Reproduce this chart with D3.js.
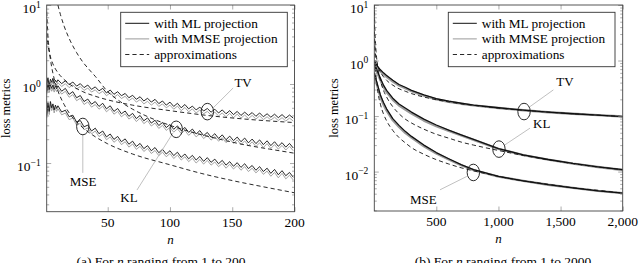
<!DOCTYPE html>
<html><head><meta charset="utf-8">
<script src="https://cdn.jsdelivr.net/npm/d3@7"></script>
<style>
body{margin:0;background:#fff}
svg{display:block}
</style>
</head><body>
<svg id="c" width="640" height="263"></svg>
<script>
// ---------------- DATA: left panel (n = 1..200) ----------------
const nSawL = [1,2,3,4,5,6,7,8,9,10,13,16,19,22,25,28,31,34,37,40,43,46,49,52,55,58,61,64,67,70,73,76,79,82,85,88,91,94,97,100,103,106,109,112,115,118,121,124,127,130,133,136,139,142,145,148,151,154,157,160,163,166,169,172,175,178,181,184,187,190,193,196,199];
const tvML_L = [1.0,1.2,0.95,1.15,1.05,1.18,1.02,1.12,1.05,1.13,1.01,1.10,0.98,1.06,0.94,1.01,0.90,0.97,0.855,0.92,0.82,0.88,0.77,0.84,0.74,0.80,0.71,0.76,0.67,0.72,0.64,0.69,0.61,0.66,0.59,0.64,0.565,0.61,0.54,0.59,0.52,0.57,0.50,0.55,0.485,0.525,0.47,0.51,0.455,0.49,0.44,0.48,0.43,0.47,0.42,0.46,0.41,0.45,0.40,0.44,0.40,0.435,0.39,0.43,0.385,0.42,0.38,0.415,0.375,0.41,0.37,0.405,0.37];
const tvMM_L = [0.92,1.10,0.87,1.06,0.97,1.09,0.94,1.03,0.97,1.04,0.93,1.01,0.90,0.975,0.865,0.93,0.83,0.89,0.79,0.845,0.755,0.81,0.71,0.775,0.68,0.735,0.655,0.70,0.615,0.665,0.59,0.635,0.56,0.605,0.54,0.59,0.52,0.56,0.50,0.54,0.48,0.525,0.46,0.505,0.445,0.485,0.43,0.47,0.42,0.45,0.405,0.44,0.395,0.43,0.385,0.425,0.375,0.415,0.37,0.405,0.365,0.40,0.36,0.395,0.355,0.385,0.35,0.38,0.345,0.375,0.34,0.37,0.34];
const klML_L = [0.80,1.0,0.85,0.98,0.88,0.97,0.86,0.95,0.87,0.95,0.81,0.88,0.74,0.80,0.67,0.715,0.60,0.645,0.555,0.60,0.52,0.57,0.485,0.53,0.45,0.49,0.42,0.455,0.39,0.425,0.365,0.40,0.342,0.373,0.320,0.348,0.298,0.326,0.281,0.307,0.267,0.295,0.256,0.282,0.244,0.269,0.233,0.257,0.222,0.244,0.212,0.235,0.205,0.227,0.197,0.219,0.192,0.213,0.186,0.207,0.180,0.201,0.176,0.196,0.171,0.191,0.166,0.186,0.163,0.181,0.159,0.177,0.155];
const klMM_L = [0.74,0.92,0.78,0.90,0.81,0.89,0.79,0.87,0.80,0.875,0.745,0.81,0.68,0.735,0.615,0.66,0.55,0.595,0.51,0.55,0.48,0.525,0.445,0.49,0.415,0.45,0.385,0.42,0.36,0.39,0.335,0.37,0.315,0.343,0.294,0.32,0.274,0.30,0.259,0.282,0.246,0.271,0.236,0.259,0.224,0.247,0.214,0.236,0.204,0.224,0.195,0.216,0.189,0.209,0.181,0.201,0.177,0.196,0.171,0.19,0.166,0.185,0.162,0.18,0.157,0.176,0.153,0.171,0.15,0.167,0.146,0.163,0.143];
const mseML_L = [0.40,0.58,0.45,0.60,0.50,0.56,0.47,0.54,0.49,0.53,0.442,0.466,0.385,0.403,0.329,0.345,0.287,0.302,0.254,0.276,0.235,0.254,0.214,0.233,0.199,0.217,0.186,0.202,0.173,0.189,0.162,0.177,0.152,0.166,0.143,0.157,0.135,0.149,0.130,0.143,0.124,0.137,0.118,0.130,0.113,0.125,0.109,0.121,0.105,0.117,0.102,0.112,0.098,0.108,0.094,0.104,0.091,0.101,0.088,0.098,0.085,0.093,0.081,0.090,0.078,0.086,0.074,0.083,0.071,0.080,0.069,0.076,0.066];
const mseMM_L = [0.37,0.53,0.41,0.55,0.46,0.52,0.43,0.50,0.45,0.488,0.407,0.429,0.354,0.371,0.303,0.317,0.264,0.278,0.234,0.254,0.216,0.234,0.197,0.214,0.183,0.2,0.171,0.186,0.159,0.174,0.149,0.163,0.14,0.153,0.132,0.144,0.124,0.137,0.12,0.132,0.114,0.126,0.109,0.12,0.104,0.115,0.1,0.111,0.097,0.108,0.094,0.103,0.09,0.099,0.086,0.096,0.084,0.093,0.081,0.09,0.078,0.086,0.075,0.083,0.072,0.079,0.068,0.076,0.065,0.074,0.063,0.07,0.061];
// approximations (left)
const nTvApxL  = [1,2,3,5,7,10,15,20,30,40,50,70,100,130,160,200];
const tvApxL   = [4.4,3.1,2.55,1.97,1.66,1.39,1.14,0.98,0.80,0.70,0.63,0.54,0.46,0.40,0.36,0.325];
const nKlApxL  = [10,12,15,20,25,30,35,40,50,60,70,80,100,120,140,160,180,200];
const klApxL   = [10,7.6,5.4,3.5,2.5,1.9,1.53,1.25,0.80,0.60,0.48,0.40,0.30,0.24,0.20,0.17,0.15,0.133];
const nMseApxL = [1,2,3,4,5,7,10,15,20,30,40,50,70,100,125,150,175,200];
const mseApxL  = [8.2,4.1,2.73,2.05,1.64,1.17,0.82,0.55,0.41,0.28,0.215,0.175,0.13,0.095,0.074,0.06,0.05,0.042];

// ---------------- DATA: right panel (n = 1..2000) ----------------
const nR = [1,10,25,50,75,100,150,200,250,300,400,500,600,700,800,1000,1200,1400,1600,1800,2000];
const tvML_R  = [0.95,0.90,0.80,0.68,0.60,0.54,0.44,0.37,0.33,0.29,0.24,0.205,0.185,0.17,0.158,0.141,0.128,0.118,0.11,0.104,0.098];
const tvMM_R  = [0.88,0.84,0.75,0.64,0.57,0.51,0.42,0.355,0.318,0.28,0.233,0.2,0.181,0.167,0.156,0.14,0.127,0.117,0.11,0.104,0.098];
const klML_R  = [0.85,0.80,0.65,0.48,0.36,0.29,0.21,0.165,0.14,0.118,0.088,0.069,0.056,0.046,0.038,0.026,0.020,0.0165,0.014,0.0122,0.0108];
const klMM_R  = [0.78,0.74,0.60,0.445,0.335,0.27,0.196,0.155,0.131,0.111,0.083,0.066,0.054,0.045,0.0372,0.0256,0.0198,0.0164,0.0139,0.0121,0.0107];
const mseML_R = [0.60,0.50,0.38,0.24,0.175,0.135,0.09,0.068,0.053,0.043,0.030,0.022,0.0170,0.0133,0.0108,0.0082,0.0068,0.0058,0.0051,0.0045,0.0041];
const mseMM_R = [0.55,0.46,0.35,0.22,0.162,0.125,0.084,0.064,0.05,0.041,0.0287,0.0212,0.0165,0.013,0.0106,0.0081,0.0068,0.0058,0.0051,0.0045,0.0041];
const nTvApxR  = [1,3,10,25,50,75,100,150,200,250,300,400,500,600,700,800,1000,1200,1400,1600,1800,2000];
const tvApxR   = [4.4,2.54,1.39,0.88,0.62,0.51,0.44,0.36,0.31,0.28,0.254,0.22,0.197,0.18,0.166,0.156,0.139,0.127,0.118,0.11,0.104,0.098];
const nKlApxR  = [2.2,5,10,15,25,50,75,100,150,200,250,300,400,500,600,700,800,1000,1200,1400,1600,1800,2000];
const klApxR   = [10,4.4,2.2,1.47,0.88,0.44,0.29,0.22,0.147,0.11,0.088,0.075,0.058,0.047,0.04,0.034,0.030,0.024,0.0195,0.0163,0.0139,0.0121,0.0108];
const nMseApxR = [1,2,5,10,25,50,75,100,150,200,250,300,400,500,600,700,800,1000,1200,1400,1600,1800,2000];
const mseApxR  = [8.2,4.1,1.64,0.82,0.33,0.164,0.109,0.082,0.055,0.041,0.033,0.027,0.0205,0.0164,0.0137,0.0117,0.0103,0.0082,0.0068,0.0059,0.0051,0.0046,0.0041];

// tick labels
const xTicksL = [50,100,150,200];
const xTickLabelsL = ["50","100","150","200"];
const xTicksR = [500,1000,1500,2000];
const xTickLabelsR = ["500","1,000","1,500","2,000"];
const yExpL = [1,0,-1];
const yExpR = [1,0,-1,-2];
const legendLabels = ["with ML projection","with MMSE projection","approximations"];

// annotations: [label, circle n, circle v, line start n,v, line end n,v, text n,v]
const annL = [
  ["TV", 130,0.447, 134.6,0.497, 150.7,0.89, 158.7,1.06],
  ["KL", 105,0.267, 102.4,0.24, 73.5,0.0455, 67.1,0.037],
  ["MSE", 30,0.29, 30,0.233, 30,0.075, 30.2,0.059]
];
const annR = [
  ["TV", 1206,0.1205, 1254,0.148, 1442,0.296, 1536,0.412],
  ["KL", 1004,0.0254, 1052,0.0303, 1254,0.0606, 1348,0.0745],
  ["MSE", 798,0.00964, 745,0.00817, 530,0.0047, 395,0.00311]
];

// ---------------- DRAWING ----------------
const FONT = "'Liberation Serif','DejaVu Serif','Times New Roman',serif";
const svg = d3.select("#c").attr("font-family", FONT);
const zip = (ns, vs) => ns.map((n,i)=>[n, vs[i]]).filter(d=>d[1]!==undefined);
function txt(sel){ return sel.append("text").style("font-family", FONT).attr("fill","#000"); }

function panel(cfg){
  const g = svg.append("g");
  const x = d3.scaleLinear().domain(cfg.xDom).range([cfg.x0, cfg.x1]);
  const y = d3.scaleLog().domain(cfg.yDom).range([cfg.y1, cfg.y0]);
  const id = "clip"+cfg.key;
  svg.append("clipPath").attr("id", id).append("rect")
    .attr("x", cfg.x0).attr("y", cfg.y0).attr("width", cfg.x1-cfg.x0).attr("height", cfg.y1-cfg.y0);
  const line = d3.line().x(d=>x(d[0])).y(d=>y(d[1]));
  const plot = g.append("g").attr("clip-path", `url(#${id})`);
  cfg.mm.forEach(s => plot.append("path").datum(zip(s[0], s[1]))
    .attr("d", line).attr("fill","none").attr("stroke","#9a9a9a").attr("stroke-width", cfg.mmW).attr("stroke-linejoin","round"));
  cfg.ml.forEach(s => plot.append("path").datum(zip(s[0], s[1]))
    .attr("d", line).attr("fill","none").attr("stroke","#111").attr("stroke-width", cfg.mlW).attr("stroke-linejoin","round"));
  cfg.apx.forEach(s => plot.append("path").datum(zip(s[0], s[1]))
    .attr("d", d3.line().curve(d3.curveMonotoneX).x(d=>x(d[0])).y(d=>y(d[1])))
    .attr("fill","none").attr("stroke","#111").attr("stroke-width",0.9).attr("stroke-dasharray","4.2,3"));

  cfg.ann.forEach(a => {
    g.append("line").attr("x1", x(a[3])).attr("y1", y(a[4])).attr("x2", x(a[5])).attr("y2", y(a[6]))
      .attr("stroke","#b0b0b0").attr("stroke-width",0.8);
    g.append("ellipse").attr("cx", x(a[1])).attr("cy", y(a[2])).attr("rx",6.2).attr("ry",8.3)
      .attr("fill","none").attr("stroke","#111").attr("stroke-width",0.9);
    txt(g).attr("x", x(a[7])).attr("y", y(a[8])+4.5).attr("text-anchor","middle")
      .attr("font-size",13).text(a[0]);
  });

  const majors = cfg.yExp.map(e => Math.pow(10,e));
  const minors = [];
  const lo = Math.floor(Math.log10(cfg.yDom[0])), hi = Math.ceil(Math.log10(cfg.yDom[1]));
  for (let e=lo; e<hi; e++) for (let j=2;j<=9;j++){ const v=j*Math.pow(10,e); if (v>=cfg.yDom[0] && v<=cfg.yDom[1]) minors.push(v); }
  const axG = g.append("g");
  axG.append("g").attr("transform",`translate(${cfg.x0},0)`).call(d3.axisLeft(y).tickValues(majors).tickSize(-4.5).tickFormat(""));
  axG.append("g").attr("transform",`translate(${cfg.x0},0)`).call(d3.axisLeft(y).tickValues(minors).tickSize(-2.5).tickFormat(""));
  axG.append("g").attr("transform",`translate(${cfg.x1},0)`).call(d3.axisRight(y).tickValues(majors).tickSize(-4.5).tickFormat(""));
  axG.append("g").attr("transform",`translate(${cfg.x1},0)`).call(d3.axisRight(y).tickValues(minors).tickSize(-2.5).tickFormat(""));
  axG.append("g").attr("transform",`translate(0,${cfg.y1})`).call(d3.axisBottom(x).tickValues(cfg.xTicks).tickSize(-4.5).tickFormat(""));
  axG.append("g").attr("transform",`translate(0,${cfg.y0})`).call(d3.axisTop(x).tickValues(cfg.xTicks).tickSize(-4.5).tickFormat(""));
  axG.selectAll(".domain").remove();
  axG.selectAll("text").remove();
  axG.selectAll("line").attr("stroke","#888").attr("stroke-width",0.7);
  g.append("rect").attr("x",cfg.x0).attr("y",cfg.y0).attr("width",cfg.x1-cfg.x0).attr("height",cfg.y1-cfg.y0)
    .attr("fill","none").attr("stroke","#444").attr("stroke-width",0.9);

  cfg.xTicks.forEach((t,i) => txt(g).attr("x", x(t)).attr("y", cfg.y1+15)
    .attr("text-anchor","middle").attr("font-size",13.5).text(cfg.xLabels[i]));
  cfg.yExp.forEach(e => {
    const t = txt(g).attr("x", cfg.x0-6).attr("y", y(Math.pow(10,e))+8)
      .attr("text-anchor","end").attr("font-size",13.5);
    t.append("tspan").text("10");
    t.append("tspan").attr("dy",-5.5).attr("font-size",9.5).text(e<0 ? "\u2212"+(-e) : String(e));
  });
  txt(g).attr("x",(cfg.x0+cfg.x1)/2).attr("y",cfg.y1+32).attr("text-anchor","middle")
    .attr("font-size",13).attr("font-style","italic").text("n");
  txt(g).attr("transform",`translate(${cfg.yLabX},${(cfg.y0+cfg.y1)/2}) rotate(-90)`)
    .attr("text-anchor","middle").attr("font-size",12.5).text("loss metrics");
  const cap = txt(g).attr("x", cfg.capX).attr("y", 265.5).attr("text-anchor","middle").attr("font-size",13.5);
  cap.append("tspan").text(cfg.capA);
  cap.append("tspan").attr("font-style","italic").text("n");
  cap.append("tspan").text(cfg.capB);

  const L = cfg.leg;
  g.append("rect").attr("x",L[0]).attr("y",L[1]).attr("width",L[2]).attr("height",L[3])
    .attr("fill","#fff").attr("stroke","#333").attr("stroke-width",0.9);
  const st = [["#111",1,null],["#9a9a9a",1,null],["#111",0.9,"4.2,3"]];
  legendLabels.forEach((lab,i) => {
    const yy = L[1]+11+i*15.6;
    const ln = g.append("line").attr("x1",L[0]+4.5).attr("x2",L[0]+28.5).attr("y1",yy).attr("y2",yy)
      .attr("stroke",st[i][0]).attr("stroke-width",st[i][1]);
    if (st[i][2]) ln.attr("stroke-dasharray",st[i][2]);
    txt(g).attr("x",L[0]+33.5).attr("y",yy+4.3).attr("font-size",13.3).text(lab);
  });
}

panel({key:"L", x0:46.7, x1:294.5, y0:5, y1:211.7, xDom:[1,200], yDom:[0.0242,10],
  xTicks:xTicksL, xLabels:xTickLabelsL, yExp:yExpL, mlW:0.9, mmW:0.9,
  ml:[[nSawL,tvML_L],[nSawL,klML_L],[nSawL,mseML_L]],
  mm:[[nSawL,tvMM_L],[nSawL,klMM_L],[nSawL,mseMM_L]],
  apx:[[nTvApxL,tvApxL],[nKlApxL,klApxL],[nMseApxL,mseApxL]],
  ann:annL, leg:[120.7,12.3,166.6,54.4], yLabX:10, capX:161, capA:"(a) For ", capB:" ranging from 1 to 200"});

panel({key:"R", x0:374.3, x1:622.7, y0:5, y1:211, xDom:[1,2000], yDom:[0.00195,10],
  xTicks:xTicksR, xLabels:xTickLabelsR, yExp:yExpR, mlW:1.3, mmW:2.4,
  ml:[[nR,tvML_R],[nR,klML_R],[nR,mseML_R]],
  mm:[[nR,tvMM_R],[nR,klMM_R],[nR,mseMM_R]],
  apx:[[nTvApxR,tvApxR],[nKlApxR,klApxR],[nMseApxR,mseApxR]],
  ann:annR, leg:[448.3,12.3,166.7,54.4], yLabX:338, capX:503, capA:"(b) For ", capB:" ranging from 1 to 2000"});
</script>
</body></html>
